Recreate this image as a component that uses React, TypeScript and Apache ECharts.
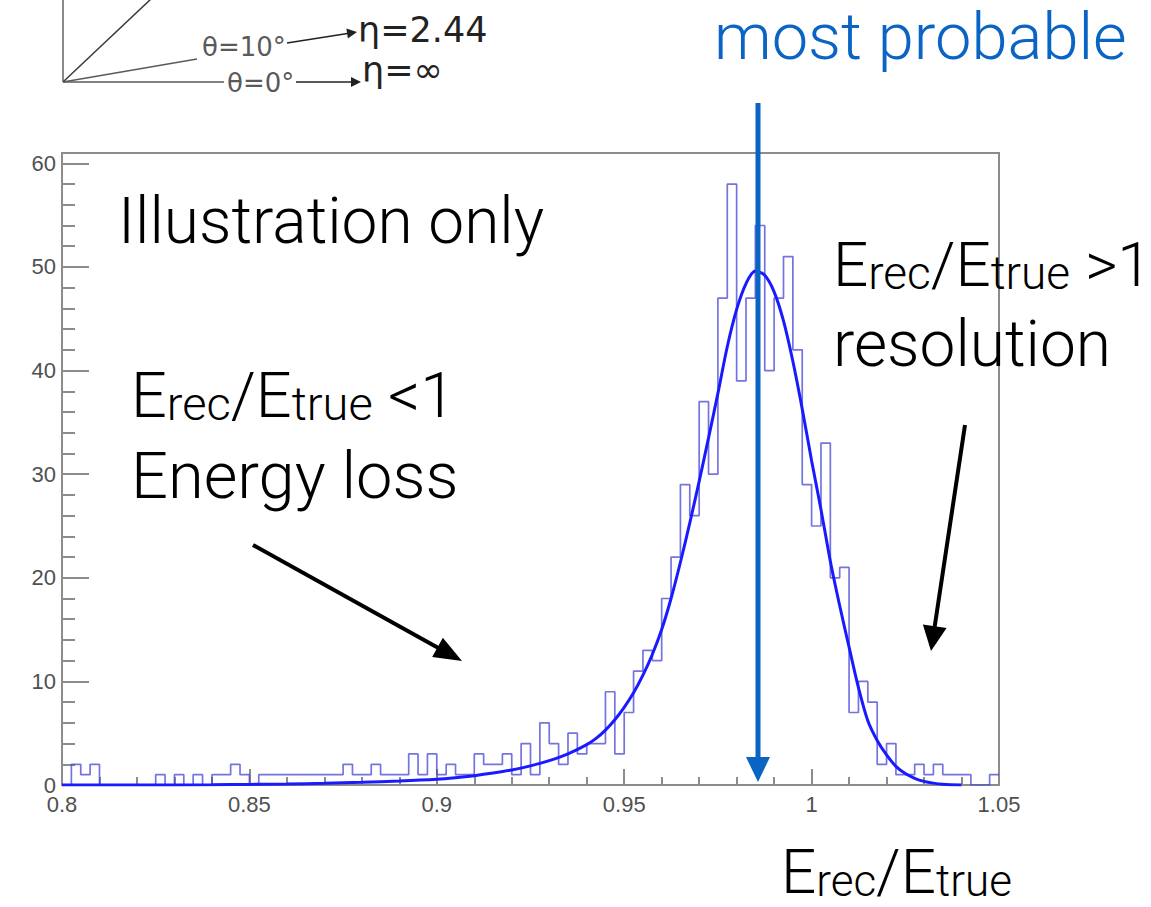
import { useEffect, useRef } from "react";
import * as echarts from "echarts";

// Histogram of E_rec/E_true: 100 bins of width 0.0025 starting at 0.8
const binStart = 0.8;
const binWidth = 0.0025;
const counts = [
  0, 2, 1, 2, 0, 0, 0, 0, 0, 0,
  1, 0, 1, 0, 1, 0, 1, 1, 2, 1,
  0, 1, 1, 1, 1, 1, 1, 1, 1, 1,
  2, 1, 1, 2, 1, 1, 1, 3, 1, 3,
  1, 2, 1, 1, 3, 2, 2, 3, 1, 4,
  1, 6, 4, 2, 5, 3, 4, 4, 9, 3,
  7, 11, 13, 12, 18, 22, 29, 26, 37, 30,
  47, 58, 39, 47, 54, 40, 47, 51, 42, 29,
  25, 33, 20, 21, 7, 10, 8, 2, 4, 1,
  1, 2, 1, 2, 1, 1, 1, 0, 0, 1,
];

// Fitted curve, sampled along x
const fitX = [
  0.8, 0.82, 0.84, 0.85, 0.86, 0.87, 0.88, 0.89, 0.9, 0.905,
  0.91, 0.915, 0.92, 0.925, 0.93, 0.935, 0.94, 0.9425, 0.945, 0.9475,
  0.95, 0.9525, 0.955, 0.9575, 0.96, 0.9625, 0.965, 0.9675, 0.97, 0.9725,
  0.975, 0.9775, 0.98, 0.9825, 0.985, 0.9875, 0.99, 0.9925, 0.995, 0.9975,
  1.0, 1.0025, 1.005, 1.0075, 1.01, 1.0125, 1.015, 1.0175, 1.02, 1.0225,
  1.025, 1.0275, 1.03, 1.0325, 1.035, 1.04,
];
const fitY = [
  0, 0, 0.03, 0.06, 0.1, 0.17, 0.26, 0.38, 0.55, 0.7,
  0.9, 1.15, 1.45, 1.85, 2.35, 3.0, 3.9, 4.5, 5.3, 6.3,
  7.5, 8.9, 10.6, 12.6, 15.0, 18.0, 21.5, 25.3, 29.3, 33.5,
  37.8, 42.3, 45.9, 48.4, 49.6, 49.2, 47.6, 44.8, 40.9, 36.3,
  31.3, 26.6, 21.6, 17.3, 13.3, 9.4, 6.2, 4.3, 2.9, 1.8,
  1.1, 0.65, 0.35, 0.18, 0.08, 0,
];

const xTickValues = [0.8, 0.85, 0.9, 0.95, 1, 1.05];
const xTickLabels = ["0.8", "0.85", "0.9", "0.95", "1", "1.05"];
const yTickValues = [0, 10, 20, 30, 40, 50, 60];
const yTickLabels = ["0", "10", "20", "30", "40", "50", "60"];
const xMin = 0.8;
const xMax = 1.05;
const yMax = 61;

const FONT = "Roboto";
const BLUE = "#0a64c4";
const AXIS_GRAY = "#8c8c8c";
const LABEL_GRAY = "#505050";

function lookupLabel(v: number, values: number[], labels: string[]) {
  const i = values.findIndex((t) => Math.abs(t - v) < 1e-6);
  return i >= 0 ? labels[i] : "";
}

// line with a filled triangular head at (x2, y2)
function arrow(
  x1: number, y1: number, x2: number, y2: number,
  color: string, width: number, headLen: number, headHalf: number
) {
  const dx = x2 - x1;
  const dy = y2 - y1;
  const len = Math.hypot(dx, dy);
  const ux = dx / len;
  const uy = dy / len;
  const bx = x2 - ux * headLen;
  const by = y2 - uy * headLen;
  const px = -uy;
  const py = ux;
  return [
    {
      type: "line",
      z: 100,
      shape: { x1, y1, x2: bx + ux * 2, y2: by + uy * 2 },
      style: { stroke: color, lineWidth: width },
    },
    {
      type: "polygon",
      z: 100,
      shape: {
        points: [
          [x2, y2],
          [bx + px * headHalf, by + py * headHalf],
          [bx - px * headHalf, by - py * headHalf],
        ],
      },
      style: { fill: color },
    },
  ];
}

// "E_rec/E_true" with the smaller letters sharing the baseline of the capitals
function ratioText(x: number, baseline: number, tail: string, main: number, sub: number) {
  const lb = Math.round(main * 0.8);
  const ls = Math.round(lb - 0.68 * (main - sub));
  return {
    type: "text",
    z: 100,
    x,
    y: baseline - 0.34 * main,
    style: {
      text: `{b|E}{s|rec}{b|/E}{s|true}{b|${tail}}`,
      align: "left",
      verticalAlign: "middle",
      rich: {
        b: { fontSize: main, fontFamily: FONT, fontWeight: 300, fill: "#000", lineHeight: lb, verticalAlign: "bottom" },
        s: { fontSize: sub, fontFamily: FONT, fontWeight: 300, fill: "#000", lineHeight: ls, verticalAlign: "bottom" },
      },
    },
  };
}

function plainText(x: number, baseline: number, text: string, size: number, fill: string, family = FONT, weight: any = 300) {
  return {
    type: "text",
    z: 100,
    x,
    y: baseline - 0.34 * size,
    style: {
      text, fontSize: size, fontFamily: family, fontWeight: weight, fill,
      align: "left", verticalAlign: "middle", lineHeight: Math.round(size * 0.9),
    },
  };
}

export default function App() {
  const ref = useRef<HTMLDivElement>(null);

  useEffect(() => {
    if (!ref.current) return;
    const chart = echarts.init(ref.current, undefined, { renderer: "svg" });

    const histData: number[][] = counts.map((c, i) => [binStart + i * binWidth, c]);
    histData.push([binStart + counts.length * binWidth, counts[counts.length - 1]]);
    const fitData = fitX.map((x, i) => [x, fitY[i]]);

    const sketch = "#5a5a5a";
    const graphics: any[] = [
      // angle sketch in the top-left corner
      { type: "line", shape: { x1: 63, y1: 0, x2: 63, y2: 82 }, style: { stroke: "#8a8a8a", lineWidth: 2 } },
      { type: "line", shape: { x1: 63, y1: 82, x2: 152, y2: -2 }, style: { stroke: "#3a3a3a", lineWidth: 1.5 } },
      { type: "line", shape: { x1: 63, y1: 82, x2: 197, y2: 59 }, style: { stroke: sketch, lineWidth: 1.5 } },
      { type: "line", shape: { x1: 63, y1: 82, x2: 224, y2: 82 }, style: { stroke: sketch, lineWidth: 1.5 } },
      plainText(202, 56, "θ=10°", 26, sketch, "DejaVu Sans", "normal"),
      plainText(227, 92, "θ=0°", 26, sketch, "DejaVu Sans", "normal"),
      ...arrow(287, 43, 357, 32, "#222", 1.5, 10, 5),
      ...arrow(296, 82, 361, 82, "#222", 1.5, 10, 5),
      plainText(358, 42, "η=2.44", 35, "#222", "DejaVu Sans", "normal"),
      plainText(362, 82, "η=∞", 35, "#222", "DejaVu Sans", "normal"),

      // most probable value marker
      plainText(714, 59, "most probable", 65, BLUE),
      ...arrow(758, 103, 758, 782, BLUE, 5, 25, 12),

      // annotations
      plainText(118, 243, "Illustration only", 64, "#000"),
      ratioText(131, 423, " <1", 63, 47),
      plainText(131, 498, "Energy loss", 65, "#000"),
      ratioText(833, 292, " >1", 62, 46),
      plainText(833, 366, "resolution", 64, "#000"),
      ...arrow(253, 545, 462, 661, "#000", 4, 28, 11),
      ...arrow(965, 425, 931, 651, "#000", 4, 25, 12),

      // axis title
      ratioText(781, 899, "", 62, 44),
    ];

    chart.setOption({
      animation: false,
      backgroundColor: "#ffffff",
      grid: {
        left: 62,
        right: 152,
        top: 153,
        bottom: 122,
        show: true,
        borderColor: AXIS_GRAY,
        borderWidth: 2,
        backgroundColor: "transparent",
      },
      xAxis: {
        type: "value",
        min: xMin,
        max: xMax,
        interval: 0.05,
        axisLine: { show: true, onZero: false, lineStyle: { color: AXIS_GRAY, width: 2 } },
        axisTick: { show: true, inside: true, length: 16, lineStyle: { color: AXIS_GRAY, width: 2 } },
        minorTick: { show: true, splitNumber: 5, length: 8, lineStyle: { color: AXIS_GRAY, width: 2 } },
        splitLine: { show: false },
        axisLabel: {
          margin: 8,
          fontSize: 22,
          fontFamily: "Liberation Sans",
          color: LABEL_GRAY,
          showMinLabel: true,
          showMaxLabel: true,
          hideOverlap: false,
          formatter: (v: number) => lookupLabel(v, xTickValues, xTickLabels),
        },
      },
      yAxis: {
        type: "value",
        min: 0,
        max: yMax,
        interval: 10,
        axisLine: { show: true, lineStyle: { color: AXIS_GRAY, width: 2 } },
        axisTick: { show: true, inside: true, length: 27, lineStyle: { color: AXIS_GRAY, width: 2 } },
        minorTick: { show: true, splitNumber: 5, length: 13, lineStyle: { color: AXIS_GRAY, width: 2 } },
        splitLine: { show: false },
        axisLabel: {
          margin: 6,
          fontSize: 22,
          fontFamily: "Liberation Sans",
          color: LABEL_GRAY,
          hideOverlap: false,
          formatter: (v: number) => lookupLabel(v, yTickValues, yTickLabels),
        },
      },
      series: [
        {
          name: "histogram",
          type: "line",
          step: "end",
          data: histData,
          symbol: "none",
          lineStyle: { color: "rgba(70,70,215,0.75)", width: 1.7 },
          z: 2,
        },
        {
          name: "fit",
          type: "line",
          data: fitData,
          smooth: 0.3,
          symbol: "none",
          lineStyle: { color: "#1a1aff", width: 3 },
          z: 3,
        },
      ],
      graphic: graphics,
    });

    return () => chart.dispose();
  }, []);

  return (
    <div
      ref={ref}
      style={{ position: "fixed", left: 0, top: 0, width: 1151, height: 907, background: "#fff" }}
    />
  );
}
